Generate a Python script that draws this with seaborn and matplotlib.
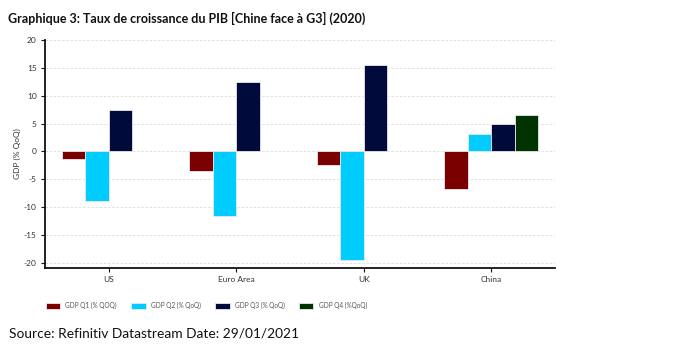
import matplotlib
matplotlib.use("Agg")
import matplotlib.pyplot as plt
import seaborn as sns
import pandas as pd
import numpy as np

countries = ["US", "Euro Area", "UK", "China"]
series = ["GDP Q1 (% QOQ)", "GDP Q2 (% QoQ)", "GDP Q3 (% QoQ)", "GDP Q4 (%QoQ)"]
q1 = [-1.3, -3.6, -2.4, -6.8]
q2 = [-9.0, -11.6, -19.6, 3.2]
q3 = [7.4, 12.4, 15.5, 4.9]
q4 = [np.nan, np.nan, np.nan, 6.5]
colors = ["#7a0000", "#00ccff", "#000b3b", "#003300"]
yticks = [20, 15, 10, 5, 0, -5, -10, -15, -20]

rows = []
for s, vals in zip(series, [q1, q2, q3, q4]):
    for c, v in zip(countries, vals):
        rows.append({"country": c, "series": s, "value": v})
df = pd.DataFrame(rows)

sns.set_style("white")
plt.rcParams["font.family"] = ["Lato", "DejaVu Sans"]

W, H = 691, 350
fig = plt.figure(figsize=(W / 100, H / 100), dpi=100)
ax = fig.add_axes([45 / W, (H - 267.7) / H, 510 / W, (267.7 - 39.5) / H])

sns.barplot(data=df, x="country", y="value", hue="series", order=countries,
            hue_order=series, palette=colors, saturation=1, width=0.735, dodge=True,
            edgecolor="#e8e8f0", linewidth=0.6, errorbar=None, ax=ax, legend=True)

ax.set_xlim(-0.5, 3.5)
ax.set_ylim(-20.9, 20.1)
ax.set_yticks(yticks)
ax.set_yticklabels([str(t) for t in yticks])
ax.yaxis.grid(True, color="#dddddd", linestyle=(0, (3, 2)), linewidth=0.6)
ax.set_axisbelow(True)
for sp in ["top", "right"]:
    ax.spines[sp].set_visible(False)
for sp in ["left", "bottom"]:
    ax.spines[sp].set_color("#111111")
    ax.spines[sp].set_linewidth(1.3)
ax.tick_params(axis="both", which="both", direction="out", length=3, width=0.8,
               colors="#111111", labelsize=6, labelcolor="#333333", pad=3,
               left=True, bottom=True)
ax.set_xlabel("")
ax.set_ylabel("GDP (% QoQ)", fontsize=6, color="#333333", labelpad=2)

handles, labels = ax.get_legend_handles_labels()
ax.get_legend().remove()
fig.legend(handles, labels, loc="center left", bbox_to_anchor=(40 / W, 1 - 305.7 / H),
           ncol=4, frameon=False, fontsize=4.7, handlelength=2.2, handleheight=1.1,
           handletextpad=0.8, columnspacing=2.2, labelcolor="#555555")

fig.text(8 / W, 1 - 18 / H, "Graphique 3: Taux de croissance du PIB [Chine face à G3] (2020)",
         fontsize=9, fontweight="bold", va="center", ha="left", color="#111111")
fig.text(9 / W, 1 - 333 / H, "Source: Refinitiv Datastream Date: 29/01/2021",
         fontsize=9.9, va="center", ha="left", color="#111111")

fig.savefig("out.png", dpi=100)
